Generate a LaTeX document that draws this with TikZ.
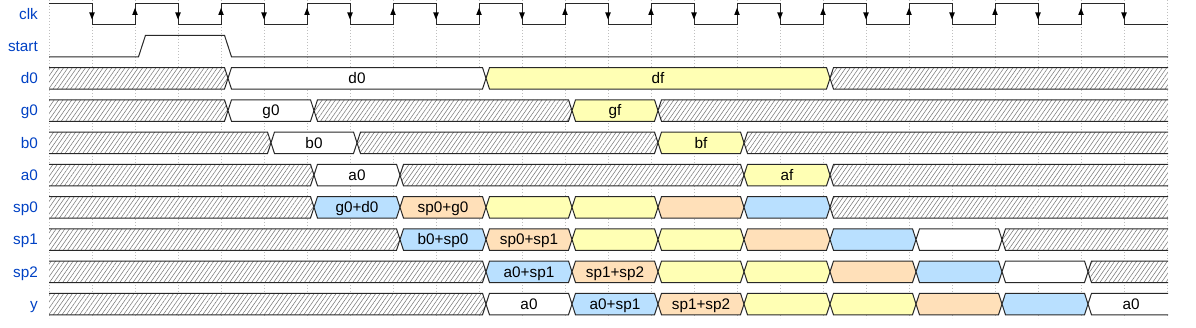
\documentclass[tikz,border=0pt]{standalone}
\usepackage{fontspec}
\setmainfont{Liberation Sans}
\usetikzlibrary{patterns.meta}
\definecolor{lblue}{RGB}{0,65,196}
\definecolor{cyel}{RGB}{255,255,180}
\definecolor{cora}{RGB}{255,224,185}
\definecolor{cblu}{RGB}{185,224,255}
\definecolor{wline}{RGB}{40,40,40}
\tikzset{
  wl/.style={draw=wline,line width=1pt,line join=miter},
  gridl/.style={draw=black!25,line width=0.6pt,dash pattern=on 0.6pt off 2.4pt},
  hatch/.style={fill=white,postaction={pattern={Lines[angle=55,distance=3.6pt,line width=0.5pt]},pattern color=black!55}},
  ww/.style={fill=white},
  wy/.style={fill=cyel},
  wo/.style={fill=cora},
  wb/.style={fill=cblu},
  lbl/.style={anchor=base east,text=lblue,font=\fontsize{15.3}{17}\selectfont,inner sep=0pt},
  dtext/.style={anchor=base,text=black,font=\fontsize{15.3}{17}\selectfont,inner sep=0pt},
}
% #1 row centre, #2 k0, #3 k1, #4 style, #5 text, #6 node name
\newcommand\wseg[6]{%
  \pgfmathsetmacro\xa{49+86*#2}%
  \pgfmathsetmacro\xb{49+86*#3}%
  \ifdim #2pt=0pt
    \coordinate (LT) at (49,#1-10.75); \coordinate (LM) at (49,#1); \coordinate (LB) at (49,#1+10.75);
  \else
    \coordinate (LT) at (\xa+10.5,#1-10.75); \coordinate (LM) at (\xa+7,#1); \coordinate (LB) at (\xa+10.5,#1+10.75);
  \fi
  \ifdim #3pt=13pt
    \coordinate (RT) at (1168,#1-10.75); \coordinate (RM) at (1168,#1); \coordinate (RB) at (1168,#1+10.75);
  \else
    \coordinate (RT) at (\xb+3.5,#1-10.75); \coordinate (RM) at (\xb+7,#1); \coordinate (RB) at (\xb+3.5,#1+10.75);
  \fi
  \path[#4] (LT) -- (RT) -- (RM) -- (RB) -- (LB) -- (LM) -- cycle;
  \ifdim #2pt=0pt
    \ifdim #3pt=13pt
      \draw[wl] (LT) -- (RT); \draw[wl] (LB) -- (RB);
    \else
      \draw[wl] (LT) -- (RT) -- (RM) -- (RB) -- (LB);
    \fi
  \else
    \ifdim #3pt=13pt
      \draw[wl] (RT) -- (LT) -- (LM) -- (LB) -- (RB);
    \else
      \draw[wl] (LT) -- (RT) -- (RM) -- (RB) -- (LB) -- (LM) -- cycle;
    \fi
  \fi
  \def\tmptext{#5}%
  \ifx\tmptext\empty\else
    \node[dtext] (#6) at ({(\xa+\xb)/2+7},#1+5.4) {#5};
  \fi
}
\begin{document}
\begin{tikzpicture}[x=1pt,y=-1pt]
\useasboundingbox (0,0) rectangle (1196,328);
% grid
\foreach \i in {0,...,26} \draw[gridl] ({49+43*\i},0) -- ({49+43*\i},318);
% labels
\node[lbl] (L-clk)   at (38,13.8+5.4)   {clk};
\node[lbl] (L-start) at (38,46.05+5.4)  {start};
\node[lbl] (L-d0)    at (38,78.3+5.4)   {d0};
\node[lbl] (L-g0)    at (38,110.55+5.4) {g0};
\node[lbl] (L-b0)    at (38,142.8+5.4)  {b0};
\node[lbl] (L-a0)    at (38,175.05+5.4) {a0};
\node[lbl] (L-sp0)   at (38,207.3+5.4)  {sp0};
\node[lbl] (L-sp1)   at (38,239.55+5.4) {sp1};
\node[lbl] (L-sp2)   at (38,271.8+5.4)  {sp2};
\node[lbl] (L-y)     at (38,304.05+5.4) {y};
% clock
\draw[wl] (49,3.05) \foreach \k in {0,...,11}{ -- ({49+86*\k+43},3.05) -- ({49+86*\k+43},24.55) -- ({49+86*\k+86},24.55) -- ({49+86*\k+86},3.05)} -- (1124,3.05) -- (1124,24.55) -- (1168,24.55);
\foreach \k in {0,...,12} \fill[black] ({49+86*\k+43-2.8},12.5) -- ({49+86*\k+43+2.8},12.5) -- ({49+86*\k+43},19.5) -- cycle;
\foreach \k in {1,...,12} \fill[black] ({49+86*\k-2.8},15) -- ({49+86*\k+2.8},15) -- ({49+86*\k},8) -- cycle;
% start
\draw[wl] (49,56.8) -- (138.5,56.8) -- (145.5,35.3) -- (224.5,35.3) -- (231.5,56.8) -- (1168,56.8);
% d0
\wseg{78.3}{0}{2}{hatch}{}{}
\wseg{78.3}{2}{5}{ww}{d0}{t-d0}
\wseg{78.3}{5}{9}{wy}{df}{t-df}
\wseg{78.3}{9}{13}{hatch}{}{}
% g0
\wseg{110.55}{0}{2}{hatch}{}{}
\wseg{110.55}{2}{3}{ww}{g0}{t-g0}
\wseg{110.55}{3}{6}{hatch}{}{}
\wseg{110.55}{6}{7}{wy}{gf}{t-gf}
\wseg{110.55}{7}{13}{hatch}{}{}
% b0
\wseg{142.8}{0}{2.5}{hatch}{}{}
\wseg{142.8}{2.5}{3.5}{ww}{b0}{t-b0}
\wseg{142.8}{3.5}{7}{hatch}{}{}
\wseg{142.8}{7}{8}{wy}{bf}{t-bf}
\wseg{142.8}{8}{13}{hatch}{}{}
% a0
\wseg{175.05}{0}{3}{hatch}{}{}
\wseg{175.05}{3}{4}{ww}{a0}{t-a0}
\wseg{175.05}{4}{8}{hatch}{}{}
\wseg{175.05}{8}{9}{wy}{af}{t-af}
\wseg{175.05}{9}{13}{hatch}{}{}
% sp0
\wseg{207.3}{0}{3}{hatch}{}{}
\wseg{207.3}{3}{4}{wb}{g0+d0}{t-sp0a}
\wseg{207.3}{4}{5}{wo}{sp0+g0}{t-sp0b}
\wseg{207.3}{5}{6}{wy}{}{}
\wseg{207.3}{6}{7}{wy}{}{}
\wseg{207.3}{7}{8}{wo}{}{}
\wseg{207.3}{8}{9}{wb}{}{}
\wseg{207.3}{9}{13}{hatch}{}{}
% sp1
\wseg{239.55}{0}{4}{hatch}{}{}
\wseg{239.55}{4}{5}{wb}{b0+sp0}{t-sp1a}
\wseg{239.55}{5}{6}{wo}{sp0+sp1}{t-sp1b}
\wseg{239.55}{6}{7}{wy}{}{}
\wseg{239.55}{7}{8}{wy}{}{}
\wseg{239.55}{8}{9}{wo}{}{}
\wseg{239.55}{9}{10}{wb}{}{}
\wseg{239.55}{10}{11}{ww}{}{}
\wseg{239.55}{11}{13}{hatch}{}{}
% sp2
\wseg{271.8}{0}{5}{hatch}{}{}
\wseg{271.8}{5}{6}{wb}{a0+sp1}{t-sp2a}
\wseg{271.8}{6}{7}{wo}{sp1+sp2}{t-sp2b}
\wseg{271.8}{7}{8}{wy}{}{}
\wseg{271.8}{8}{9}{wy}{}{}
\wseg{271.8}{9}{10}{wo}{}{}
\wseg{271.8}{10}{11}{wb}{}{}
\wseg{271.8}{11}{12}{ww}{}{}
\wseg{271.8}{12}{13}{hatch}{}{}
% y
\wseg{304.05}{0}{5}{hatch}{}{}
\wseg{304.05}{5}{6}{ww}{a0}{t-ya}
\wseg{304.05}{6}{7}{wb}{a0+sp1}{t-yb}
\wseg{304.05}{7}{8}{wo}{sp1+sp2}{t-yc}
\wseg{304.05}{8}{9}{wy}{}{}
\wseg{304.05}{9}{10}{wy}{}{}
\wseg{304.05}{10}{11}{wo}{}{}
\wseg{304.05}{11}{12}{wb}{}{}
\wseg{304.05}{12}{13}{ww}{a0}{t-yd}
\end{tikzpicture}
\end{document}
